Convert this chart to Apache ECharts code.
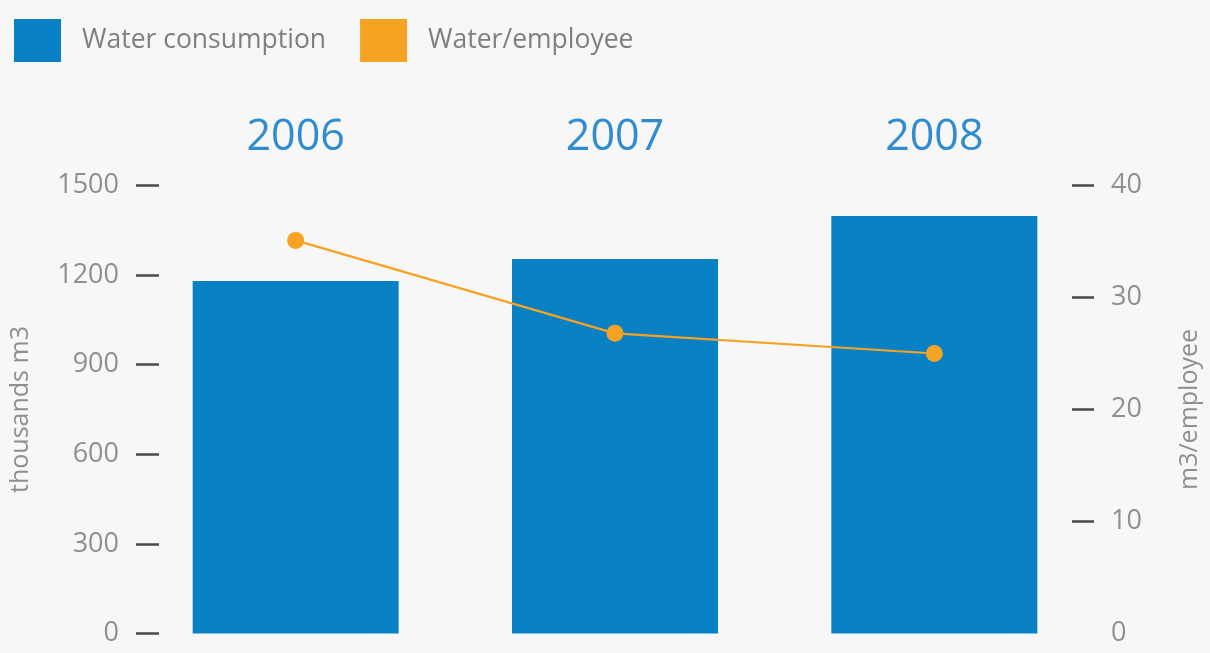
<!DOCTYPE html>
<html><head><meta charset="utf-8">
<script src="https://cdn.jsdelivr.net/npm/echarts@6/dist/echarts.min.js"></script>
<style>html,body{margin:0;padding:0;background:#f7f7f7;}#c{width:1210px;height:653px;}</style>
</head><body><div id="c"></div>
<script>
const years = ['2006', '2007', '2008'];
const waterConsumption = [1180, 1254, 1398];
const waterPerEmployee = [35.1, 26.8, 25.0];
const leftTicks = [0, 300, 600, 900, 1200, 1500];
const rightTicks = [0, 10, 20, 30, 40];

const FONT = '"Open Sans", sans-serif';
const chart = echarts.init(document.getElementById('c'));
chart.setOption({
  backgroundColor: '#f7f7f7',
  animation: false,
  legend: {
    left: 9, top: 14, itemWidth: 47, itemHeight: 43, itemGap: 34,
    textStyle: { fontFamily: FONT, fontSize: 26.5, color: '#7f7f7f', padding: [0, 0, 0, 16] },
    data: [{ name: 'Water consumption', icon: 'rect' }, { name: 'Water/employee', icon: 'rect' }]
  },
  grid: { left: 135, right: 111, top: 185.5, bottom: 19.5 },
  xAxis: {
    type: 'category', position: 'top', data: years,
    axisLine: { show: false }, axisTick: { show: false },
    axisLabel: { fontFamily: FONT, fontSize: 43, color: '#2f8ccf', margin: 26 }
  },
  yAxis: [{
    type: 'value', min: leftTicks[0], max: leftTicks[leftTicks.length - 1], interval: 300,
    name: 'thousands m3', nameLocation: 'middle', nameGap: 103, nameRotate: 90,
    nameTextStyle: { fontFamily: FONT, fontSize: 25, color: '#8f8f8f' },
    axisLine: { show: false },
    axisTick: { show: true, inside: true, length: 23, lineStyle: { color: '#4a4a4a', width: 2.5 } },
    axisLabel: { fontFamily: FONT, fontSize: 27, color: '#8f8f8f', margin: 17, formatter: v => String(v) },
    splitLine: { show: false }
  }, {
    type: 'value', min: rightTicks[0], max: rightTicks[rightTicks.length - 1], interval: 10,
    name: 'm3/employee', nameLocation: 'middle', nameGap: 83, nameRotate: 90,
    nameTextStyle: { fontFamily: FONT, fontSize: 25, color: '#8f8f8f' },
    axisLine: { show: false },
    axisTick: { show: true, inside: true, length: 22, customValues: rightTicks.slice(1), lineStyle: { color: '#4a4a4a', width: 2.5 } },
    axisLabel: { fontFamily: FONT, fontSize: 27, color: '#8f8f8f', margin: 17, formatter: v => String(v) },
    splitLine: { show: false }
  }],
  series: [{
    name: 'Water consumption', type: 'bar', data: waterConsumption,
    barWidth: '64.5%', itemStyle: { color: '#0880c4' }, yAxisIndex: 0
  }, {
    name: 'Water/employee', type: 'line', data: waterPerEmployee, yAxisIndex: 1,
    symbol: 'circle', symbolSize: 17,
    itemStyle: { color: '#f6a323' }, lineStyle: { color: '#f6a323', width: 2.2 }
  }]
});
</script></body></html>
